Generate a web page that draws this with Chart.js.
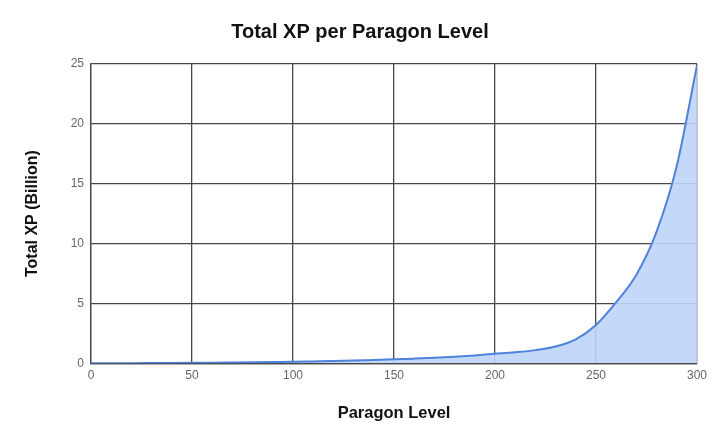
<!DOCTYPE html>
<html>
<head>
<meta charset="utf-8">
<script src="https://cdn.jsdelivr.net/npm/chart.js@4/dist/chart.umd.min.js"></script>
<style>
  html, body { margin: 0; padding: 0; background: #fff; }
  #wrap { width: 720px; height: 445px; }
</style>
</head>
<body>
<div id="wrap"><canvas id="chartXp"></canvas></div>
<script>
// paragon levels (every 10) and total XP in billions
const levels = [0, 10, 20, 30, 40, 50, 60, 70, 80, 90, 100, 110, 120, 130, 140, 150,
                160, 170, 180, 190, 200, 210, 220, 230, 240, 250, 260, 270, 280, 290, 300];
const totalXp = [0, 0.005, 0.01, 0.02, 0.03, 0.04, 0.05, 0.07, 0.09, 0.11, 0.13, 0.16, 0.19, 0.23, 0.28, 0.33,
                 0.39, 0.46, 0.55, 0.66, 0.79, 0.92, 1.1, 1.4, 2.0, 3.2, 5.1, 7.4, 11.0, 16.5, 24.9];
const xTicks = [0, 50, 100, 150, 200, 250, 300];
const yTicks = [0, 5, 10, 15, 20, 25];

const gridColor = '#474747';
const tickColor = '#666666';
const fontFamily = '"Liberation Sans", Arial, sans-serif';

new Chart(document.getElementById('chartXp'), {
    type: 'line',
    data: {
        datasets: [{
            label: 'Total XP',
            data: levels.map((l, i) => ({ x: l, y: totalXp[i] })),
            borderColor: '#4f82d9',
            backgroundColor: 'rgba(190,213,250,0.9)',
            borderWidth: 2,
            fill: 'origin',
            pointRadius: 0,
            cubicInterpolationMode: 'monotone'
        }]
    },
    options: {
        responsive: true,
        maintainAspectRatio: false,
        animation: false,
        layout: { padding: { left: 23, right: 23, top: 0, bottom: 22 } },
        plugins: {
            legend: { display: false },
            tooltip: { enabled: false },
            title: {
                display: true,
                text: 'Total XP per Paragon Level',
                color: '#111',
                font: { family: fontFamily, size: 20, weight: 'bold' },
                padding: { top: 20, bottom: 20 }
            }
        },
        scales: {
            x: {
                type: 'linear',
                min: xTicks[0],
                max: xTicks[xTicks.length - 1],
                afterBuildTicks: axis => { axis.ticks = xTicks.map(v => ({ value: v })); },
                grid: { color: gridColor, lineWidth: 1.3, drawTicks: false },
                border: { color: gridColor, width: 1.3 },
                ticks: { color: tickColor, padding: 5, font: { family: fontFamily, size: 12 } },
                title: {
                    display: true,
                    text: 'Paragon Level',
                    color: '#111',
                    font: { family: fontFamily, size: 16.5, weight: 'bold' },
                    padding: { top: 15.5, bottom: 0 }
                }
            },
            y: {
                min: yTicks[0],
                max: yTicks[yTicks.length - 1],
                afterBuildTicks: axis => { axis.ticks = yTicks.map(v => ({ value: v })); },
                grid: { color: gridColor, lineWidth: 1.3, drawTicks: false },
                border: { color: gridColor, width: 1.3 },
                ticks: { color: tickColor, padding: 7, font: { family: fontFamily, size: 12 } },
                title: {
                    display: true,
                    text: 'Total XP (Billion)',
                    color: '#111',
                    font: { family: fontFamily, size: 16, weight: 'bold' },
                    padding: { top: 0, bottom: 21.5 }
                }
            }
        }
    }
});
</script>
</body>
</html>
